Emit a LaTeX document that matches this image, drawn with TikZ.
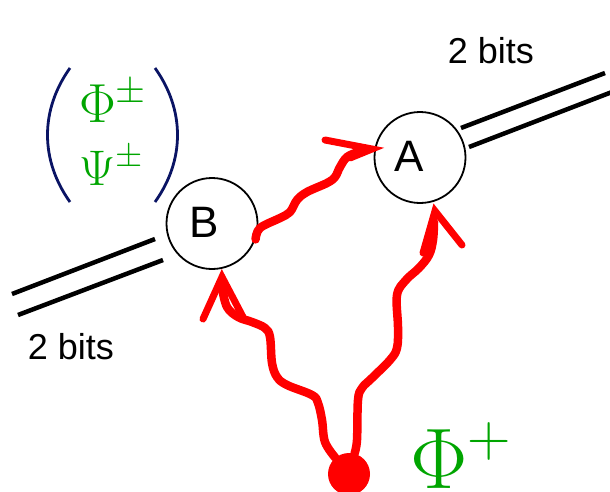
\RequirePackage{fix-cm}
\documentclass[tikz,border=0pt]{standalone}
\usepackage{fontspec}
\newfontfamily\arial{Liberation Sans}
\definecolor{bellgreen}{RGB}{0,165,0}
\definecolor{navy}{RGB}{10,20,100}
\begin{document}
\begin{tikzpicture}[x=1pt,y=-1pt,
  qline/.style={line width=4.5pt},
  wave/.style={red, line width=8.5pt, line cap=round, line join=round},
  head/.style={red, line width=7pt, line cap=round, line join=miter},
  party/.style={circle, draw, line width=1.8pt, minimum size=91pt, inner sep=0pt},
  lbl/.style={font=\arial\fontsize{44}{48}\selectfont, inner sep=0pt},
  bits/.style={font=\arial\fontsize{36}{40}\selectfont, inner sep=0pt},
  greek/.style={text=bellgreen, inner sep=0pt, anchor=base west},
  paren/.style={navy, line width=2.8pt}]
\useasboundingbox (0,0) rectangle (610,491);
% parties
\node[party] (A) at (420,157.5) {};
\node[party] (B) at (212,223.5) {};
\node[lbl] (Alab) at (409,156) {A};
\node[lbl] (Blab) at (204.5,222.5) {B};
% classical channels
\coordinate (a1s) at (461,128); \coordinate (a1e) at (605,73);
\coordinate (a2s) at (469,147); \coordinate (a2e) at (612,92);
\coordinate (b1s) at (155,239); \coordinate (b1e) at (12,294);
\coordinate (b2s) at (163,260); \coordinate (b2e) at (18,315);
\draw[qline] (a1s) -- (a1e);
\draw[qline] (a2s) -- (a2e);
\draw[qline] (b1s) -- (b1e);
\draw[qline] (b2s) -- (b2e);
\node[bits] (bitsA) at (491,50.5) {2 bits};
\node[bits] (bitsB) at (71,346.5) {2 bits};
% Bell states
\draw[paren] (70,68) .. controls (40,110) and (40,160) .. (70,202);
\draw[paren] (155,68) .. controls (185,110) and (185,160) .. (155,202);
\node[greek] (phipm) at (79,122) {\fontsize{55}{60}\selectfont$\Phi^{\pm}$};
\node[greek] (psipm) at (79,185) {\fontsize{50}{60}\selectfont$\Psi^{\pm}$};
\node[greek] (phiplus) at (410,488) {\fontsize{86}{90}\selectfont$\Phi^{+}$};
% source
\node[circle, fill=red, minimum size=42pt, inner sep=0pt] (dot) at (349,474) {};
\coordinate (tipB) at (222,277);
\coordinate (tipA2) at (435,211);
\coordinate (tipA1) at (372,149);
% entanglement lines
\draw[wave] plot[smooth, tension=0.6] coordinates {(dot.130) (325,442) (322,420) (318,403) (312,395) (287,385) (277,377) (272,363) (270,337) (265,328) (252,322) (238,317) (227,307) (222,288)};
\draw[head] (203,319) -- (tipB) -- (243,317);
\draw[wave] plot[smooth, tension=0.6] coordinates {(dot.75) (357,440) (358,400) (362,388) (372,378) (390,360) (397,348) (398,327) (397,295) (406,280) (419,268) (429,255) (433,240) (434,222)};
\draw[head] (423,253) -- (tipA2) -- (462,245);
\draw[wave] plot[smooth, tension=0.6] coordinates {(B.-20) (260,228) (280,218) (290,212) (297,200) (307,192) (327,183) (335,177) (340,167) (347,157) (358,152)};
\draw[head] (325,140) -- (tipA1) -- (350,158);
\end{tikzpicture}
\end{document}
